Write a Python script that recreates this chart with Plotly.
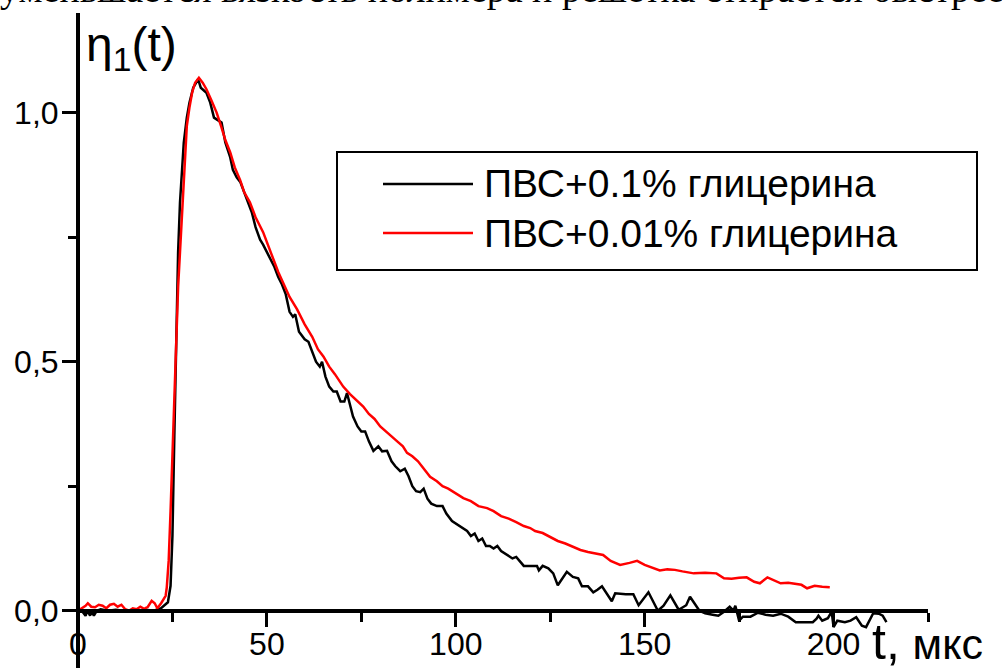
import plotly.graph_objects as go

# ---- data ----
t_black = [0, 1, 2, 2.5, 3.2, 3.6, 4.2, 5, 6, 8, 10, 12, 14, 16, 18, 20, 22, 23.8, 24.5, 25, 25.5, 26,
           26.5, 27, 27.5, 28, 28.8, 29.5, 30.5, 31.8, 32.5, 33.3, 34, 35, 36, 37, 38, 39, 40.3, 41,
           42, 43, 44, 45, 46, 47, 48.2, 49, 50, 51, 52, 53, 54, 55, 56, 56.9, 57.5, 58.5, 60, 61, 62,
           63, 64, 64.6, 65.5, 66.5, 67.6, 68.5, 69.5, 70.5, 71.2, 72.8, 74, 75, 76, 77, 78.2, 79.5,
           80.5, 81.8, 83, 84, 85.3, 86.5, 87.5, 88.5, 89.5, 90.6, 91.5, 92.5, 93.5, 95, 96.5, 97.5,
           99, 100, 101, 102, 103, 104, 105, 106, 107, 108, 109, 110, 111, 112, 113, 114, 115, 116,
           117, 118, 121.5, 122, 123, 124.5, 125.8, 127, 129.4, 131, 132.4, 133.4, 135, 136.4, 137.5,
           138.7, 141.3, 142.2, 145, 147, 148.4, 151, 153.5, 155, 156.8, 159, 161, 162, 164.5, 166,
           168, 169.5, 171, 172.5, 173.5, 174, 175, 176, 178, 180, 182, 184, 186, 188, 190, 192,
           194.5, 195.5, 196, 197, 198.5, 199.5, 200, 201, 203, 204.5, 206, 207.5, 208.6, 210.5, 212,
           213, 214]
v_black = [0.0, 0.0, -0.01, 0.0, -0.01, 0.0, -0.01, 0.0, 0.003, 0.0, 0.002, 0.0, 0.0, 0.0, 0.002, 0.0,
           0.005, 0.017, 0.05, 0.15, 0.35, 0.56, 0.72, 0.82, 0.89, 0.94, 0.99, 1.02, 1.05, 1.067, 1.05,
           1.045, 1.04, 1.02, 0.99, 0.985, 0.98, 0.94, 0.91, 0.885, 0.87, 0.86, 0.84, 0.82, 0.80, 0.77,
           0.745, 0.735, 0.72, 0.705, 0.69, 0.67, 0.655, 0.635, 0.60, 0.59, 0.595, 0.56, 0.545, 0.54,
           0.52, 0.50, 0.49, 0.50, 0.47, 0.45, 0.44, 0.44, 0.42, 0.42, 0.437, 0.39, 0.37, 0.36, 0.36,
           0.34, 0.321, 0.33, 0.32, 0.321, 0.30, 0.29, 0.28, 0.285, 0.27, 0.25, 0.24, 0.238, 0.245,
           0.225, 0.215, 0.21, 0.21, 0.195, 0.18, 0.175, 0.17, 0.166, 0.16, 0.15, 0.155, 0.14, 0.145,
           0.13, 0.13, 0.125, 0.13, 0.12, 0.115, 0.11, 0.105, 0.108, 0.10, 0.09, 0.09, 0.081, 0.09,
           0.085, 0.075, 0.051, 0.078, 0.068, 0.065, 0.049, 0.049, 0.037, 0.042, 0.049, 0.019, 0.035,
           0.033, 0.033, 0.011, 0.037, 0.0, 0.01, 0.031, 0.002, 0.011, 0.028, 0.0, -0.005, -0.008,
           -0.01, -0.002, 0.008, 0.0, 0.01, -0.02, -0.012, -0.012, -0.004, -0.008, -0.01, -0.006,
           -0.012, -0.023, -0.023, -0.023, -0.016, -0.01, -0.02, -0.015, -0.002, -0.033, -0.02,
           -0.023, -0.02, -0.013, -0.03, -0.033, -0.005, -0.006, -0.01, -0.023]

t_red = [0, 1, 2, 2.6, 3.5, 4.5, 5.5, 6.5, 7.5, 8.5, 9.5, 10.5, 11.5, 12.5, 13.5, 14.5, 15.5, 16.5,
         17.5, 18.5, 19.5, 20.3, 21, 22, 23.2, 23.5, 24, 24.5, 25, 25.5, 26, 26.5, 27, 27.5, 27.9,
         28.3, 28.8, 29.5, 30.2, 31, 32, 33, 34, 35.3, 36.7, 38, 39, 40.3, 41.5, 42.9, 44, 45.5, 47,
         49, 50.2, 51.6, 53, 54.5, 56, 58, 60, 62, 63.5, 65, 66.5, 68, 70.2, 72, 73.5, 75.5, 77, 78.5,
         80, 81.8, 83, 84.5, 86, 87.1, 88.5, 90, 91.5, 93.2, 95, 96.5, 98, 100, 102, 104, 106, 108.3,
         110, 112, 114, 116, 118, 119.7, 121, 123, 125, 127, 129, 131, 133, 135, 137, 139, 141,
         143.5, 146, 148, 150, 152, 154, 156, 158, 160, 163, 166, 169, 171, 173, 175, 177, 179,
         180.5, 182.5, 184, 186, 188, 190, 191.5, 193, 195, 197, 199]
v_red = [0.0, 0.005, 0.01, 0.015, 0.008, 0.007, 0.012, 0.01, 0.005, 0.012, 0.014, 0.008, 0.012, 0.003,
         0.0, 0.005, 0.003, 0.008, 0.004, 0.008, 0.02, 0.015, 0.005, 0.015, 0.03, 0.047, 0.1, 0.2,
         0.32, 0.45, 0.56, 0.65, 0.72, 0.79, 0.84, 0.91, 0.973, 1.01, 1.04, 1.06, 1.07, 1.06, 1.047,
         1.025, 1.0, 0.97, 0.945, 0.92, 0.89, 0.865, 0.84, 0.82, 0.79, 0.76, 0.735, 0.705, 0.68,
         0.655, 0.63, 0.605, 0.575, 0.55, 0.525, 0.51, 0.49, 0.475, 0.45, 0.435, 0.425, 0.41, 0.395,
         0.385, 0.37, 0.357, 0.35, 0.34, 0.33, 0.317, 0.31, 0.3, 0.285, 0.269, 0.26, 0.25, 0.245,
         0.235, 0.226, 0.22, 0.21, 0.206, 0.2, 0.19, 0.185, 0.178, 0.17, 0.166, 0.16, 0.156, 0.148,
         0.14, 0.135, 0.128, 0.122, 0.118, 0.115, 0.112, 0.1, 0.092, 0.096, 0.1, 0.092, 0.087,
         0.081, 0.083, 0.082, 0.079, 0.075, 0.076, 0.075, 0.065, 0.064, 0.066, 0.067, 0.058, 0.055,
         0.067, 0.062, 0.055, 0.056, 0.054, 0.052, 0.045, 0.05, 0.048, 0.047]

series_names = ["ПВС+0.1% глицерина", "ПВС+0.01% глицерина"]
series_colors = ["#000000", "#ff0000"]
x_title = "t, мкс"
y_title = "η<sub>1</sub>(t)"
page_text = "уменьшается вязкость полимера и решетка стирается быстрее"

# ---- layout geometry ----
W_FIG, H_FIG = 1002, 668
L, R, T, B = 78, 74, 13, 0
PW, PH = W_FIG - L - R, H_FIG - T - B
XR = [0, 225]
YR = [-0.115, 1.2]


def px(xp):  # pixel -> paper x
    return (xp - L) / PW


def py(yp):  # pixel -> paper y
    return (H_FIG - B - yp) / PH


FONT = "Liberation Sans, Arial, sans-serif"

fig = go.Figure()
fig.add_trace(go.Scatter(x=t_black, y=v_black, mode="lines", name=series_names[0],
                         line=dict(color=series_colors[0], width=2.5), showlegend=False))
fig.add_trace(go.Scatter(x=t_red, y=v_red, mode="lines", name=series_names[1],
                         line=dict(color=series_colors[1], width=2.5), showlegend=False))

y0_paper = (0 - YR[0]) / (YR[1] - YR[0])

fig.update_layout(
    width=W_FIG, height=H_FIG,
    margin=dict(l=L, r=R, t=T, b=B, pad=0),
    paper_bgcolor="white", plot_bgcolor="white",
    separators=", ",
    xaxis=dict(range=XR, anchor="free", position=y0_paper, showgrid=False, zeroline=False,
               showline=True, linecolor="black", linewidth=4, automargin=False,
               ticks="outside", ticklen=14, tickwidth=3, tickcolor="black",
               tick0=0, dtick=50, ticklabelstandoff=-10,
               tickfont=dict(family=FONT, size=32, color="black"),
               minor=dict(dtick=25, tick0=0, ticks="outside", ticklen=9, tickwidth=3, tickcolor="black")),
    yaxis=dict(range=YR, anchor="free", position=0, showgrid=False, zeroline=False,
               showline=True, linecolor="black", linewidth=4, automargin=False,
               ticks="outside", ticklen=14, tickwidth=3, tickcolor="black",
               tick0=0, dtick=0.5, tickformat=".1f", ticklabelstandoff=-3,
               tickfont=dict(family=FONT, size=32, color="black"),
               minor=dict(dtick=0.25, tick0=0, ticks="outside", ticklen=8, tickwidth=3, tickcolor="black")),
)

annotations = [
    dict(text=y_title, xref="paper", yref="paper", x=px(84), y=py(48), xanchor="left", yanchor="middle",
         showarrow=False, font=dict(family=FONT, size=48, color="black")),
    dict(text="<span style='font-size:50px'>t,</span> <span style='font-size:43px'>мкс</span>",
         xref="paper", yref="paper", x=px(870), y=py(642), xanchor="left", yanchor="middle",
         showarrow=False, font=dict(family=FONT, size=46, color="black")),
    dict(text=page_text, xref="paper", yref="paper", x=px(-2), y=py(12), xanchor="left", yanchor="bottom",
         showarrow=False, font=dict(family="Liberation Serif, Times New Roman, serif", size=38, color="black")),
]
row_y = [184, 233]
for name, yy in zip(series_names, row_y):
    annotations.append(dict(text=name, xref="paper", yref="paper", x=px(482), y=py(yy),
                            xanchor="left", yanchor="middle", showarrow=False,
                            font=dict(family=FONT, size=39, color="black")))
fig.update_layout(annotations=annotations)

shapes = [dict(type="rect", xref="paper", yref="paper", x0=px(337), x1=px(977), y0=py(270), y1=py(152),
               line=dict(color="black", width=2), fillcolor="rgba(0,0,0,0)", layer="above")]
for col, yy in zip(series_colors, row_y):
    shapes.append(dict(type="line", xref="paper", yref="paper", x0=px(383), x1=px(473), y0=py(yy), y1=py(yy),
                       line=dict(color=col, width=2.5)))
fig.update_layout(shapes=shapes)

fig.write_html("out.html", config={"displayModeBar": False},
               post_script="document.body.style.margin='0';document.body.style.overflow='hidden';")
